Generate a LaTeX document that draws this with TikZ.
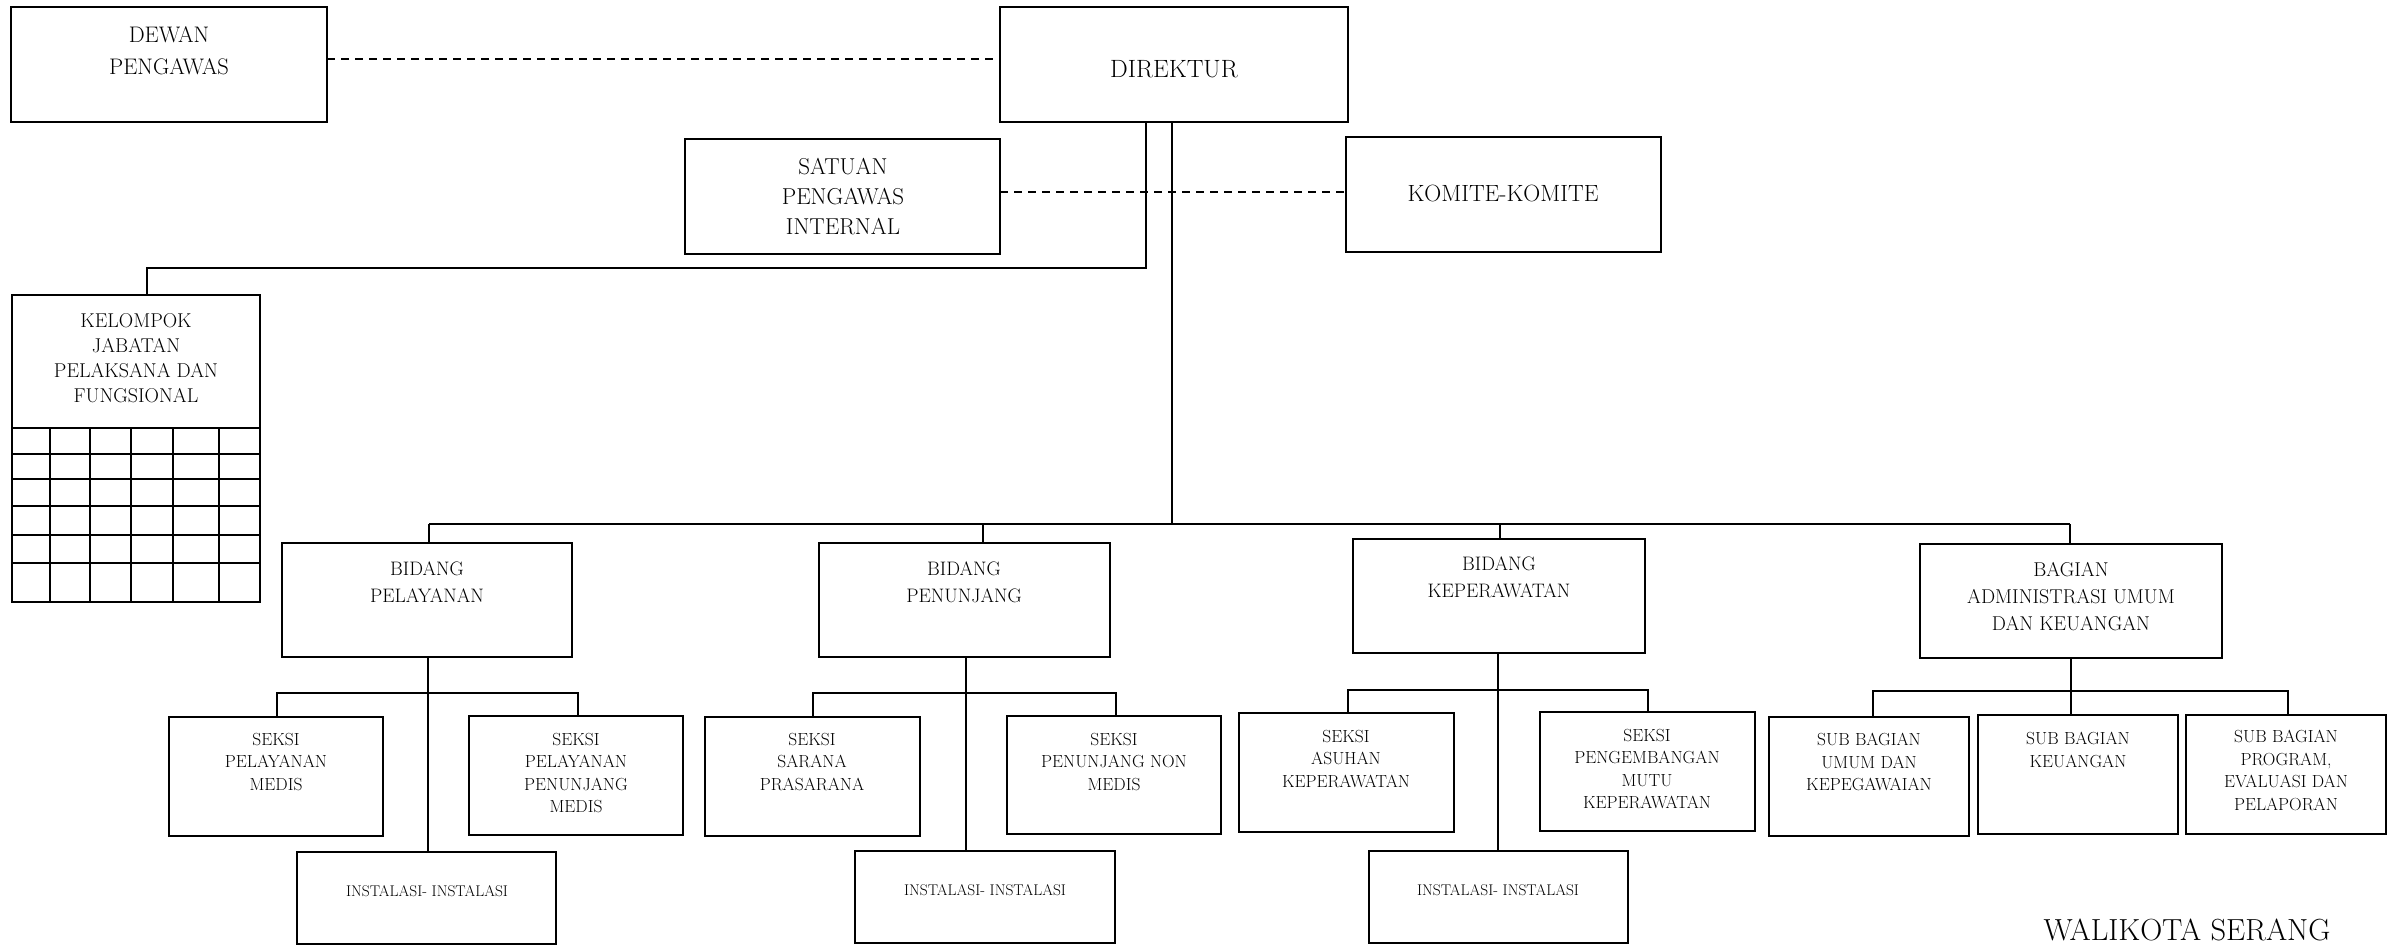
\documentclass[tikz,border=0pt]{standalone}
\usetikzlibrary{calc}
\newcommand\fsz[2]{\fontsize{#1}{#2}\selectfont}
\newcommand\orgbox[5]{%
  \pgfmathsetmacro\bw{#4-#2}\pgfmathsetmacro\bh{#5-#3}%
  \node[orgrect, minimum width=\bw pt, minimum height=\bh pt, anchor=north west] (#1) at (#2,#3) {};}
\tikzset{
  orgrect/.style={draw, line width=2.2pt, inner sep=0pt, outer sep=0pt, fill=white},
  txt/.style={inner sep=0pt, align=center, anchor=north},
  conn/.style={line width=2pt},
  dashconn/.style={line width=2.2pt, dash pattern=on 8pt off 6pt},
  grid/.style={line width=2pt}
}
\begin{document}
\begin{tikzpicture}[x=1pt, y=-1pt]
\useasboundingbox (0,0) rectangle (2388,948);
\fill[white] (0,0) rectangle (2388,948);

% boxes
\orgbox{dewan}{11}{7}{327}{122}
\orgbox{direktur}{1000}{7}{1348}{122}
\orgbox{satuan}{685}{139}{1000}{254}
\orgbox{komite}{1346}{137}{1661}{252}
\orgbox{kelompok}{12}{295}{260}{602}
\orgbox{bp}{282}{543}{572}{657}
\orgbox{bpn}{819}{543}{1110}{657}
\orgbox{bk}{1353}{539}{1645}{653}
\orgbox{ba}{1920}{544}{2222}{658}
\orgbox{s1}{169}{717}{383}{836}
\orgbox{s2}{469}{716}{683}{835}
\orgbox{s3}{705}{717}{920}{836}
\orgbox{s4}{1007}{716}{1221}{834}
\orgbox{s5}{1239}{713}{1454}{832}
\orgbox{s6}{1540}{712}{1755}{831}
\orgbox{sb1}{1769}{717}{1969}{836}
\orgbox{sb2}{1978}{715}{2178}{834}
\orgbox{sb3}{2186}{715}{2386}{834}
\orgbox{i1}{297}{852}{556}{944}
\orgbox{i2}{855}{851}{1115}{943}
\orgbox{i3}{1369}{851}{1628}{943}

% grid in kelompok box
\draw[grid] (12,428) -- (260,428);
\foreach \yy in {454,479,506,535,563} \draw[grid] (12,\yy) -- (260,\yy);
\foreach \xx in {50,90,131,173,219} \draw[grid] (\xx,428) -- (\xx,602);

% coordinates
\coordinate (yA) at (0,59);
\coordinate (yB) at (0,192);
\coordinate (kA) at (1146,268);
\coordinate (kB) at (147,268);
\coordinate (mA) at (1172,524);
\coordinate (hL) at (429,524);
\coordinate (hR) at (2070,524);
\coordinate (h2) at (983,524);
\coordinate (h3) at (1500,524);
\coordinate (p1) at (428,693);
\coordinate (p1L) at (277,693);
\coordinate (p1R) at (578,693);
\coordinate (p2) at (966,693);
\coordinate (p2L) at (813,693);
\coordinate (p2R) at (1116,693);
\coordinate (p3) at (1498,690);
\coordinate (p3L) at (1348,690);
\coordinate (p3R) at (1648,690);
\coordinate (p4) at (2071,691);
\coordinate (p4L) at (1873,691);
\coordinate (p4R) at (2288,691);

% dashed links
\draw[dashconn] (dewan.east |- yA) -- (direktur.west |- yA);
\draw[dashconn] (satuan.east |- yB) -- (komite.west |- yB);

% direktur to kelompok
\draw[conn] (direktur.south -| kA) -- (kA) -- (kB) -- (kelompok.north -| kB);
% main trunk
\draw[conn] (direktur.south -| mA) -- (mA);
\draw[conn] (hL) -- (hR);
\draw[conn] (hL) -- (bp.north -| hL);
\draw[conn] (h2) -- (bpn.north -| h2);
\draw[conn] (h3) -- (bk.north -| h3);
\draw[conn] (hR) -- (ba.north -| hR);

% pelayanan
\draw[conn] (bp.south -| p1) -- (i1.north -| p1);
\draw[conn] (s1.north -| p1L) -- (p1L) -- (p1R) -- (s2.north -| p1R);
% penunjang
\draw[conn] (bpn.south -| p2) -- (i2.north -| p2);
\draw[conn] (s3.north -| p2L) -- (p2L) -- (p2R) -- (s4.north -| p2R);
% keperawatan
\draw[conn] (bk.south -| p3) -- (i3.north -| p3);
\draw[conn] (s5.north -| p3L) -- (p3L) -- (p3R) -- (s6.north -| p3R);
% administrasi
\draw[conn] (ba.south -| p4) -- (sb2.north -| p4);
\draw[conn] (sb1.north -| p4L) -- (p4L) -- (p4R) -- (sb3.north -| p4R);

% texts
\node[txt, font=\fsz{22.5}{32}] (t-dewan) at (169,26) {DEWAN\\PENGAWAS};
\node[txt, font=\fsz{25}{30}] (t-direktur) at (1174,60) {DIREKTUR};
\node[txt, font=\fsz{23}{30}] (t-satuan) at (843,158) {SATUAN\\PENGAWAS\\INTERNAL};
\node[txt, font=\fsz{23.5}{30}] (t-komite) at (1503,185) {KOMITE-KOMITE};
\node[txt, font=\fsz{20}{25}] (t-kelompok) at (136,313) {KELOMPOK\\JABATAN\\PELAKSANA DAN\\FUNGSIONAL};
\node[txt, font=\fsz{19.5}{27}] (t-bp) at (427,562) {BIDANG\\PELAYANAN};
\node[txt, font=\fsz{19.5}{27}] (t-bpn) at (964,562) {BIDANG\\PENUNJANG};
\node[txt, font=\fsz{19.5}{27}] (t-bk) at (1499,557) {BIDANG\\KEPERAWATAN};
\node[txt, font=\fsz{20}{27}] (t-ba) at (2071,562) {BAGIAN\\ADMINISTRASI UMUM\\DAN KEUANGAN};
\node[txt, font=\fsz{17.5}{22.5}] (t-s1) at (276,733) {SEKSI\\PELAYANAN\\MEDIS};
\node[txt, font=\fsz{17.5}{22.5}] (t-s2) at (576,733) {SEKSI\\PELAYANAN\\PENUNJANG\\MEDIS};
\node[txt, font=\fsz{17.5}{22.5}] (t-s3) at (812,733) {SEKSI\\SARANA\\PRASARANA};
\node[txt, font=\fsz{17.5}{22.5}] (t-s4) at (1114,733) {SEKSI\\PENUNJANG NON\\MEDIS};
\node[txt, font=\fsz{17.5}{22.5}] (t-s5) at (1346,730) {SEKSI\\ASUHAN\\KEPERAWATAN};
\node[txt, font=\fsz{17.5}{22.5}] (t-s6) at (1647,729) {SEKSI\\PENGEMBANGAN\\MUTU\\KEPERAWATAN};
\node[txt, font=\fsz{17.5}{22.5}] (t-sb1) at (1869,733) {SUB BAGIAN\\UMUM DAN\\KEPEGAWAIAN};
\node[txt, font=\fsz{17.5}{22.5}] (t-sb2) at (2078,732) {SUB BAGIAN\\KEUANGAN};
\node[txt, font=\fsz{17.5}{22.5}] (t-sb3) at (2286,730) {SUB BAGIAN\\PROGRAM,\\EVALUASI DAN\\PELAPORAN};
\node[txt, font=\fsz{15.5}{20}] (t-i1) at (427,885) {INSTALASI- INSTALASI};
\node[txt, font=\fsz{15.5}{20}] (t-i2) at (985,884) {INSTALASI- INSTALASI};
\node[txt, font=\fsz{15.5}{20}] (t-i3) at (1498,884) {INSTALASI- INSTALASI};
\node[txt, font=\fsz{30.5}{36}] (walikota) at (2187,919) {WALIKOTA SERANG};
\end{tikzpicture}
\end{document}
